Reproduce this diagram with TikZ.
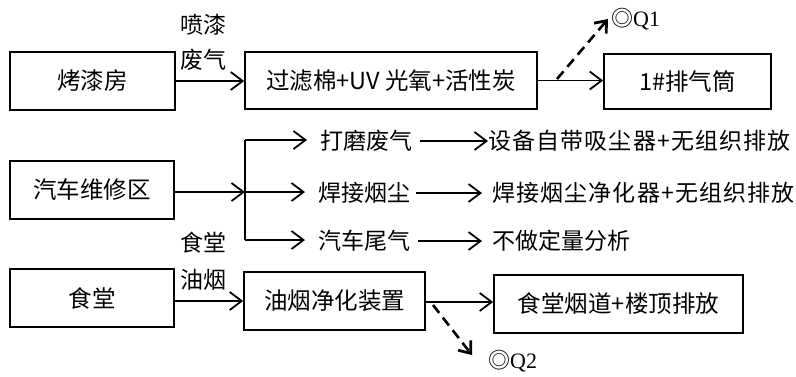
\documentclass[tikz,border=0pt]{standalone}
\usepackage{fontspec}
\setmainfont{Noto Sans CJK SC}
\newfontfamily\qfont{Liberation Serif}
\newfontfamily\cjk{Noto Sans CJK SC}
\usetikzlibrary{arrows.meta}
\begin{document}
\begin{tikzpicture}[x=1pt,y=-1pt,
  boxnode/.style={draw, line width=1.6pt, inner sep=0pt, font=\fontsize{23.5}{25}\selectfont},
  txt/.style={inner sep=0pt, font=\fontsize{23}{25}\selectfont},
  flow/.style={line width=1.4pt, -{Straight Barb[length=12pt,width=18pt,line width=1.8pt]}},
  dflow/.style={line width=2.6pt, dash pattern=on 10pt off 6pt, -{Straight Barb[length=10pt,width=16pt,line width=2.8pt]}},
  qlab/.style={inner sep=0pt, font=\fontsize{22}{24}\selectfont}
]
\useasboundingbox (0,0) rectangle (796,376);
\fill[white] (0,0) rectangle (796,376);

% row 1
\node[boxnode, minimum width=165pt, minimum height=58pt] (b1) at (92.5,81) {烤漆房};
\node[boxnode, minimum width=292pt, minimum height=57pt] (b2) at (391,80.5) {过滤棉+UV 光氧+活性炭};
\node[boxnode, minimum width=167pt, minimum height=55pt] (b3) at (687.5,81.5) {1\#排气筒};
\node[txt] (l1) at (203,25) {喷漆};
\node[txt] (l2) at (203,60) {废气};
\draw[flow] (b1.east) -- (b1.east -| b2.west);
\draw[flow] (b2.east) -- (b2.east -| b3.west);
\coordinate (q1s) at (557,79);
\node[qlab, anchor=west] (q1) at (611,19) {\cjk ◎\qfont Q1};
\draw[dflow] (q1s) -- ([xshift=-3pt]q1.west);

% row 2
\node[boxnode, minimum width=164pt, minimum height=58pt] (b4) at (92,190) {汽车维修区};
\coordinate (j) at (245,192);
\coordinate (jt) at (245,140);
\coordinate (jb) at (245,240);
\draw[flow] (b4.east |- j) -- (j);
\draw[line width=1.4pt] (jt) -- (jb);
\node[txt, anchor=west] (t1) at (320,141) {打磨废气};
\node[txt, anchor=west] (t2) at (318,193) {焊接烟尘};
\node[txt, anchor=west] (t3) at (318,241) {汽车尾气};
\draw[flow, shorten >=13pt] (jt) -- (jt -| t1.west);
\draw[flow, shorten >=13pt] (j) -- (j -| t2.west);
\draw[flow, shorten >=13pt] (jb) -- (jb -| t3.west);
\node[txt, anchor=west] (r1) at (488,141) {\addfontfeature{LetterSpace=5}设备自带吸尘器+无组织排放};
\node[txt, anchor=west] (r2) at (492,193) {\addfontfeature{LetterSpace=5}焊接烟尘净化器+无组织排放};
\node[txt, anchor=west] (r3) at (492,241) {不做定量分析};
\draw[flow, shorten <=8pt] (t1.east) -- (t1.east -| r1.west);
\draw[flow, shorten <=6pt, shorten >=10pt] (t2.east) -- (t2.east -| r2.west);
\draw[flow, shorten <=8pt, shorten >=10pt] (t3.east) -- (t3.east -| r3.west);

% row 3
\node[boxnode, minimum width=164pt, minimum height=58pt] (b5) at (92,298) {食堂};
\node[boxnode, minimum width=181pt, minimum height=58pt] (b6) at (334.5,301) {油烟净化装置};
\node[boxnode, minimum width=249pt, minimum height=58pt] (b7) at (618.5,304) {食堂烟道+楼顶排放};
\node[txt] (l3) at (203,243) {食堂};
\node[txt] (l4) at (203,280) {油烟};
\draw[flow] (b5.east |- 0,301) -- (b6.west |- 0,301);
\draw[flow] (b6.east |- 0,302) -- (b7.west |- 0,302);
\coordinate (q2s) at (433,305);
\node[qlab, anchor=west] (q2) at (488,361) {\cjk ◎\qfont Q2};
\draw[dflow] (q2s) -- (472,355);
\end{tikzpicture}
\end{document}
